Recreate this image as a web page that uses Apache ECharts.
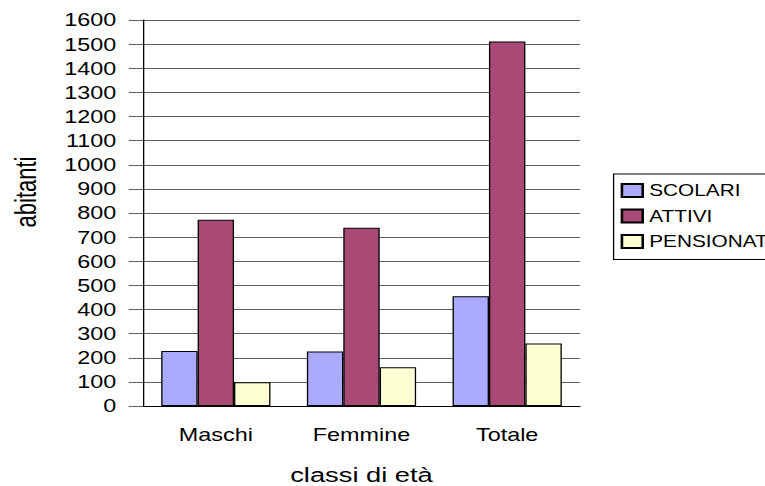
<!DOCTYPE html>
<html>
<head>
<meta charset="utf-8">
<script src="https://cdn.jsdelivr.net/npm/echarts@6/dist/echarts.min.js"></script>
<style>
  html, body { margin: 0; padding: 0; background: #fff; overflow: hidden; width: 765px; height: 486px; }
  /* the original picture is stretched sideways, so draw narrower and widen it */
  #chart { width: 620px; height: 486px; transform: scaleX(1.3); transform-origin: 0 0; }
</style>
</head>
<body>
<div id="chart"></div>
<script>
// data
const categories = ['Maschi', 'Femmine', 'Totale'];
const seriesNames = ['SCOLARI', 'ATTIVI', 'PENSIONATI'];
const scolari = [228, 226, 455];
const attivi = [772, 739, 1511];
const pensionati = [98, 161, 259];

const colors = ['#aaaaff', '#a94975', '#ffffd4'];
const font = '"Liberation Sans", Arial, sans-serif';
const S = 1.3; // horizontal stretch of the page

function barSeries(name, values, color) {
  return {
    name: name,
    type: 'bar',
    data: values,
    barGap: '0%',
    barCategoryGap: '25%',
    itemStyle: { color: color, borderColor: '#000', borderWidth: 1 },
    emphasis: { disabled: true }
  };
}

const chart = echarts.init(document.getElementById('chart'), null, { renderer: 'svg' });

const option = {
  animation: false,
  backgroundColor: '#fff',
  textStyle: { fontFamily: font, color: '#000' },
  grid: {
    left: 143 / S, top: 20, width: (580 - 143) / S, height: 386,
    outerBoundsMode: 'none', containLabel: false
  },
  xAxis: {
    type: 'category',
    data: categories,
    name: 'classi di età',
    nameLocation: 'middle',
    nameGap: 58,
    nameTextStyle: { fontSize: 21, lineHeight: 21, color: '#000', fontFamily: font },
    axisLine: { lineStyle: { color: '#000', width: 1 } },
    axisTick: { length: 10, lineStyle: { color: '#606060' } },
    axisLabel: { fontSize: 18, color: '#000', margin: 20, fontFamily: font },
    splitLine: { show: false }
  },
  yAxis: {
    type: 'value',
    min: 0,
    max: 1600,
    interval: 100,
    axisLine: { show: true, lineStyle: { color: '#000', width: 1 } },
    axisTick: { show: true, length: 11, lineStyle: { color: '#606060' } },
    axisLabel: {
      fontSize: 18, color: '#000', margin: 20.5, fontFamily: font,
      formatter: function (v) { return String(v); }
    },
    splitLine: { lineStyle: { color: '#606060', width: 1 } }
  },
  legend: {
    orient: 'vertical',
    left: 472,
    top: 174,
    icon: 'rect',
    itemWidth: 16,
    itemHeight: 13,
    itemGap: 9.5,
    padding: [8.5, 40, 10, 5.4],
    borderColor: '#000',
    borderWidth: 1,
    data: seriesNames,
    textStyle: { fontSize: 16, color: '#000', fontFamily: font }
  },
  graphic: [{
    type: 'text',
    x: 26 / S,
    y: 192,
    rotation: Math.PI / 2,
    style: {
      text: 'abitanti',
      font: '22px ' + font,
      fill: '#000',
      align: 'center',
      verticalAlign: 'middle'
    }
  }],
  series: [
    barSeries(seriesNames[0], scolari, colors[0]),
    barSeries(seriesNames[1], attivi, colors[1]),
    barSeries(seriesNames[2], pensionati, colors[2])
  ]
};

chart.setOption(option);
</script>
</body>
</html>
